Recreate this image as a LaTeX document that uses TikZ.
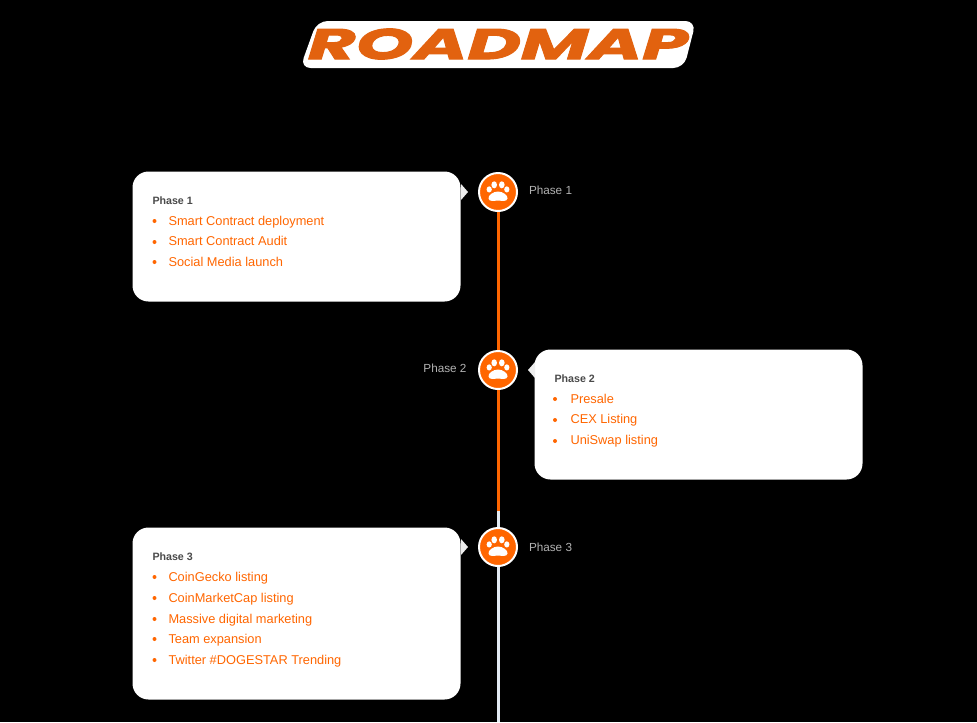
\documentclass[tikz,border=0pt]{standalone}
\usepackage{fontspec}
\setmainfont{Liberation Sans}
\newfontfamily\logofont[FakeBold=2.5,FakeStretch=1.72]{Poppins}
\usetikzlibrary{positioning}

\definecolor{pawOrange}{RGB}{255,102,0}
\definecolor{logoOrange}{RGB}{226,98,15}
\definecolor{railLight}{RGB}{226,234,242}
\definecolor{tipGrey}{RGB}{238,238,238}
\definecolor{sideGrey}{RGB}{178,178,178}
\definecolor{headGrey}{RGB}{74,74,74}

\tikzset{every picture/.style={line width=0.75pt}}
\tikzset{
  card/.style={fill=white,rounded corners=12pt,minimum width=246pt,inner sep=0pt,anchor=north west},
  stepdot/.style={circle,draw=white,line width=1.5pt,fill=pawOrange,minimum size=28.5pt,inner sep=0pt},
  siderail/.style={line width=2.25pt},
  sidelabel/.style={inner sep=0.75pt,text=sideGrey,font=\fontsize{8.8pt}{11pt}\selectfont},
  headlabel/.style={inner sep=0.75pt,anchor=base west,text=headGrey,font=\fontsize{8pt}{11pt}\selectfont\bfseries},
  itemlabel/.style={inner sep=0.75pt,anchor=base west,text=pawOrange,font=\fontsize{9.6pt}{11pt}\selectfont},
  itemdot/.style={circle,fill=pawOrange,inner sep=0pt,minimum size=3pt},
  pics/paw/.style={code={
    \fill [white] (0,0.5) .. controls (5,0.5) and (10,-3.5) .. (9.5,-6.5) .. controls (9,-10) and (4,-8.6) .. (0,-8.6) .. controls (-4,-8.6) and (-9,-10) .. (-9.5,-6.5) .. controls (-10,-3.5) and (-5,0.5) .. (0,0.5) -- cycle;
    \fill [white] (-8.8,2.6) circle [x radius=2.6, y radius=3.1];
    \fill [white] (-3.8,7.2) circle [x radius=2.8, y radius=3.5];
    \fill [white] (3.8,7.2) circle [x radius=2.8, y radius=3.5];
    \fill [white] (8.8,2.6) circle [x radius=2.6, y radius=3.1];
  }}
}

\begin{document}
\begin{tikzpicture}[x=0.75pt,y=0.75pt,yscale=-1,xscale=1]
\fill [black] (0,0) rectangle (977,722);
\useasboundingbox (0,0) rectangle (977,722);

%Title
\fill [white,rounded corners=8pt] (317,21) -- (696,21) -- (684,68) -- (300,68) -- cycle;
\node (titlemap) [inner sep=0pt,text=logoOrange,font=\logofont\fontsize{32pt}{32pt}\selectfont\bfseries\itshape] at (498,44) {ROADMAP};

%Cards
\node (cardone) [card,minimum height=97.5pt] at (132,171) {};
\node (cardtwo) [card,minimum height=97.5pt] at (534,349) {};
\node (cardthree) [card,minimum height=129pt] at (132,527) {};
\fill [tipGrey] (461,184) -- (468,192) -- (461,200) -- cycle;
\fill [tipGrey] (535,362) -- (528,370) -- (535,378) -- cycle;
\fill [tipGrey] (461,539) -- (468,547) -- (461,555) -- cycle;

%Timeline
\node (stepone) [stepdot] at (498,192) {};
\node (steptwo) [stepdot] at (498,370) {};
\node (stepthree) [stepdot] at (498,547) {};
\coordinate (railswitch) at (498,511);
\coordinate (railend) at (498,722);
\draw [siderail,pawOrange] (stepone) -- (steptwo);
\draw [siderail,pawOrange] (steptwo) -- (railswitch);
\draw [siderail,railLight] (railswitch) -- (stepthree);
\draw [siderail,railLight] (stepthree) -- (railend);
\pic at (498,192) {paw};
\pic at (498,370) {paw};
\pic at (498,547) {paw};

% Text Node
\node (sideone) [sidelabel,anchor=base west] at (527.5,194) {Phase 1};
\node (sidetwo) [sidelabel,anchor=base east] at (468,372) {Phase 2};
\node (sidethree) [sidelabel,anchor=base west] at (527.5,551) {Phase 3};

% Text Node
\node (headone) [headlabel] at (151,204) {Phase 1};
\node (dotoneone) [itemdot] at (154.5,221) {};
\node (itemoneone) [itemlabel] at (167,225) {Smart Contract deployment};
\node (dotonetwo) [itemdot] at (154.5,242) {};
\node (itemonetwo) [itemlabel] at (167,245.5) {Smart Contract Audit};
\node (dotonethree) [itemdot] at (154.5,262) {};
\node (itemonethree) [itemlabel] at (167,266) {Social Media launch};

% Text Node
\node (headtwo) [headlabel] at (553,382) {Phase 2};
\node (dottwoone) [itemdot] at (555,399) {};
\node (itemtwoone) [itemlabel] at (569,403) {Presale};
\node (dottwotwo) [itemdot] at (555,420) {};
\node (itemtwotwo) [itemlabel] at (569,423.5) {CEX Listing};
\node (dottwothree) [itemdot] at (555,441) {};
\node (itemtwothree) [itemlabel] at (569,444.5) {UniSwap listing};

% Text Node
\node (headthree) [headlabel] at (151,560) {Phase 3};
\node (dotthreeone) [itemdot] at (154.5,577) {};
\node (itemthreeone) [itemlabel] at (167,581) {CoinGecko listing};
\node (dotthreetwo) [itemdot] at (154.5,598) {};
\node (itemthreetwo) [itemlabel] at (167,602) {CoinMarketCap listing};
\node (dotthreethree) [itemdot] at (154.5,619) {};
\node (itemthreethree) [itemlabel] at (167,623) {Massive digital marketing};
\node (dotthreefour) [itemdot] at (154.5,639) {};
\node (itemthreefour) [itemlabel] at (167,643) {Team expansion};
\node (dotthreefive) [itemdot] at (154.5,660) {};
\node (itemthreefive) [itemlabel] at (167,664) {Twitter \#DOGESTAR Trending};

\end{tikzpicture}
\end{document}
